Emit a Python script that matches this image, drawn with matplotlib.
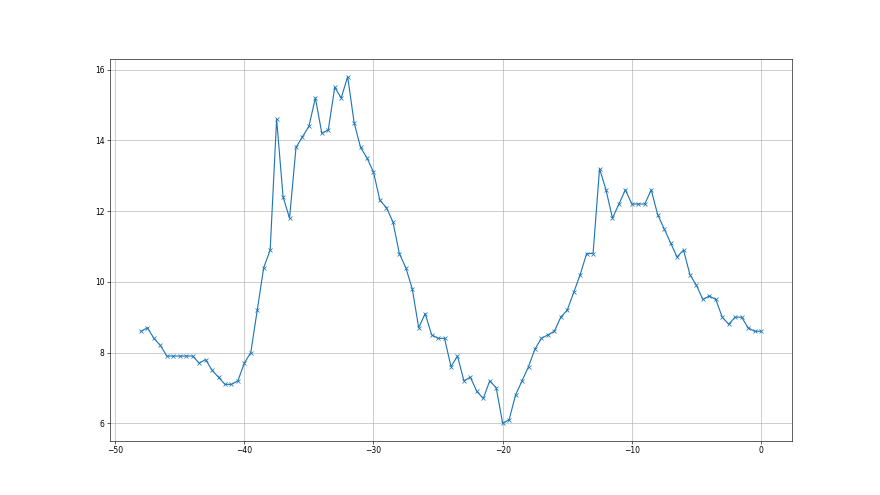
import matplotlib
matplotlib.use("Agg")
import matplotlib.pyplot as plt
import numpy as np

# x positions run from -48 to 0 in steps of 0.5
x_start = -48.0
x_step = 0.5

values = [
    8.6, 8.7, 8.4, 8.2, 7.9, 7.9, 7.9, 7.9, 7.9, 7.7,
    7.8, 7.5, 7.3, 7.1, 7.1, 7.2, 7.7, 8.0, 9.2, 10.4,
    10.9, 14.6, 12.4, 11.8, 13.8, 14.1, 14.4, 15.2, 14.2, 14.3,
    15.5, 15.2, 15.8, 14.5, 13.8, 13.5, 13.1, 12.3, 12.1, 11.7,
    10.8, 10.4, 9.8, 8.7, 9.1, 8.5, 8.4, 8.4, 7.6, 7.9,
    7.2, 7.3, 6.9, 6.7, 7.2, 7.0, 6.0, 6.1, 6.8, 7.2,
    7.6, 8.1, 8.4, 8.5, 8.6, 9.0, 9.2, 9.7, 10.2, 10.8,
    10.8, 13.2, 12.6, 11.8, 12.2, 12.6, 12.2, 12.2, 12.2, 12.6,
    11.9, 11.5, 11.1, 10.7, 10.9, 10.2, 9.9, 9.5, 9.6, 9.5,
    9.0, 8.8, 9.0, 9.0, 8.7, 8.6, 8.6,
]

xs = x_start + x_step * np.arange(len(values))

fig, ax = plt.subplots(figsize=(16, 9), dpi=55)
ax.plot(xs, values, marker='x', color='#1f77b4', linewidth=1.5, markersize=6)
ax.grid(True, color='#b0b0b0', linewidth=0.8)
fig.savefig("out.png", dpi=55)
plt.close(fig)
